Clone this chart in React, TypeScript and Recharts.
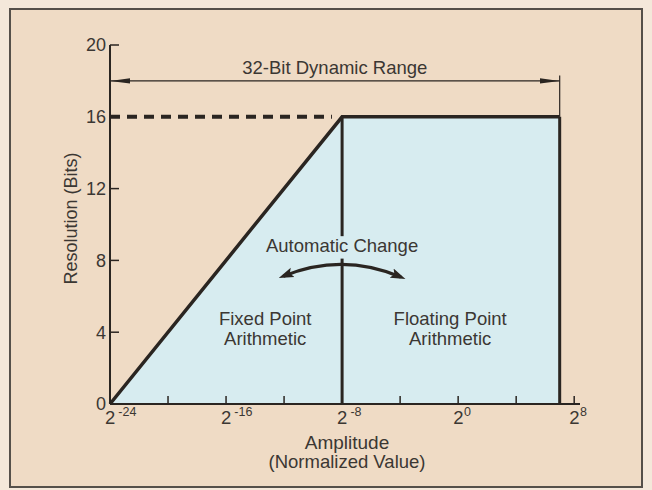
import React from 'react';
import { ComposedChart, Area, XAxis, YAxis, ReferenceLine, ReferenceDot } from 'recharts';

// ---- data ----
const amplitudeExponents = [-24, -8, 7];
const resolutionBits = [0, 16, 16];
const xTickExponents = [-24, -20, -16, -12, -8, -4, 0, 4, 8];
const xLabeledExponents = [-24, -16, -8, 0, 8];
const yTickBits = [0, 4, 8, 12, 16, 20];
const xDomain = [-24, 8.4];
const yDomain = [0, 20];
const dynamicRangeExponents = [-24, 7];
const dynamicRangeLevel = 18;
const dynamicRangeTickTop = 18.3;
const dashedSpanExponents = [-24, -8.7];
const dashedLevel = 16;
const changeArrowExponents = [-12.05, -3.95];
const changeArrowLevels = [7.12, 7.07];
// the boundary line is interrupted behind the "Automatic Change" label
const boundaryGap = [8.1, 9.35];

const data = amplitudeExponents.map((x, i) => ({ x, y: resolutionBits[i] }));

// ---- styles ----
const INK = '#2a2521';
const TEXT = '#3b3733';
const FILL = '#d7ecf0';
const BG = '#efdbc5';
const OUTER = '#f4e8da';
const FONT = "'Liberation Sans', Arial, Helvetica, sans-serif";

const XTick = (props: any) => {
  const { x, y, payload } = props;
  const v = payload.value as number;
  const labeled = xLabeledExponents.includes(v);
  return (
    <g>
      <line x1={x} x2={x} y1={y} y2={y - 8} stroke={INK} strokeWidth={1.5} />
      {labeled && (
        <text x={x - 5} y={y + 20} fill={TEXT} fontSize={18.5} fontFamily={FONT}>
          2
          <tspan dx={v < 0 ? 3 : 0.5} dy={-8} fontSize={12.5}>
            {v < 0 ? `-${-v}` : `${v}`}
          </tspan>
        </text>
      )}
    </g>
  );
};

const YTick = (props: any) => {
  const { x, y, payload } = props;
  return (
    <g>
      {payload.value !== 0 && (
        <line x1={x} x2={x + 9} y1={y} y2={y} stroke={INK} strokeWidth={1.5} />
      )}
      <text x={x - 4} y={y} dy="0.36em" textAnchor="end" fill={TEXT} fontSize={18} fontFamily={FONT}>
        {payload.value}
      </text>
    </g>
  );
};

const RangeArrow = (p: any) => (
  <g>
    <defs>
      <marker
        id="rangeHead"
        markerUnits="userSpaceOnUse"
        markerWidth={20}
        markerHeight={8}
        viewBox="0 0 20 8"
        refX={20}
        refY={4}
        orient="auto-start-reverse"
      >
        <path d="M0,1.3 L20,4 L0,6.7 z" fill={INK} />
      </marker>
    </defs>
    <line
      x1={p.x1}
      y1={p.y1}
      x2={p.x2}
      y2={p.y2}
      stroke={INK}
      strokeWidth={1.2}
      markerStart="url(#rangeHead)"
      markerEnd="url(#rangeHead)"
    />
  </g>
);

const CurvedArrow = (p: any) => {
  const mx = (p.x1 + p.x2) / 2;
  const cy = Math.min(p.y1, p.y2) - 24;
  return (
    <g>
      <defs>
        <marker
          id="curveHead"
          markerUnits="userSpaceOnUse"
          markerWidth={15}
          markerHeight={11}
          viewBox="0 0 15 11"
          refX={10}
          refY={5.5}
          orient="auto-start-reverse"
        >
          <path d="M0,0.5 L15,5.5 L0,10.5 L3,5.5 z" fill={INK} />
        </marker>
      </defs>
      <path
        d={`M${p.x1},${p.y1} Q${mx},${cy} ${p.x2},${p.y2}`}
        fill="none"
        stroke={INK}
        strokeWidth={3.2}
        markerStart="url(#curveHead)"
        markerEnd="url(#curveHead)"
      />
    </g>
  );
};

const textLines = (lines: string[], dyStart: number, gap: number) => (p: any) => (
  <g>
    {lines.map((t, i) => (
      <text
        key={i}
        x={p.cx}
        y={p.cy + dyStart + i * gap}
        textAnchor="middle"
        fill={TEXT}
        fontSize={18.5}
        fontFamily={FONT}
      >
        {t}
      </text>
    ))}
  </g>
);

const xTitle = (lp: any) => {
  const vb = lp.viewBox;
  const cx = vb.x + vb.width / 2 + 2;
  return (
    <g>
      <text x={cx} y={vb.y + 45} textAnchor="middle" fill={TEXT} fontSize={19} fontFamily={FONT}>
        Amplitude
      </text>
      <text x={cx} y={vb.y + 64} textAnchor="middle" fill={TEXT} fontSize={18.5} fontFamily={FONT}>
        (Normalized Value)
      </text>
    </g>
  );
};

const yTitle = (lp: any) => {
  const vb = lp.viewBox;
  const cx = vb.x + 1;
  const cy = vb.y + vb.height / 2 - 6;
  return (
    <text
      x={cx}
      y={cy}
      transform={`rotate(-90 ${cx} ${cy})`}
      textAnchor="middle"
      dominantBaseline="central"
      fill={TEXT}
      fontSize={18}
      fontFamily={FONT}
    >
      Resolution (Bits)
    </text>
  );
};

export default function App() {
  return (
    <div style={{ position: 'absolute', left: 0, top: 0, width: 652, height: 490, background: OUTER }}>
      <div
        style={{
          position: 'absolute',
          left: 9,
          top: 8,
          width: 634,
          height: 480,
          boxSizing: 'border-box',
          border: '2px solid #55504a',
          background: BG,
        }}
      />
      <div style={{ position: 'absolute', left: 0, top: 0 }}>
        <ComposedChart
          width={652}
          height={490}
          data={data}
          margin={{ top: 45, right: 72, bottom: 56, left: 70 }}
        >
          <XAxis
            dataKey="x"
            type="number"
            domain={xDomain}
            ticks={xTickExponents}
            interval={0}
            height={30}
            tickSize={0}
            tickMargin={0}
            tickLine={false}
            axisLine={{ stroke: INK, strokeWidth: 2 }}
            tick={<XTick />}
            label={xTitle}
          />
          <YAxis
            type="number"
            domain={yDomain}
            ticks={yTickBits}
            interval={0}
            width={40}
            tickSize={0}
            tickMargin={0}
            tickLine={false}
            axisLine={{ stroke: INK, strokeWidth: 2 }}
            tick={<YTick />}
            label={yTitle}
          />
          <Area
            type="linear"
            dataKey="y"
            stroke={INK}
            strokeWidth={3.5}
            fill={FILL}
            fillOpacity={1}
            dot={false}
            activeDot={false}
            isAnimationActive={false}
          />
          <ReferenceLine
            segment={[
              { x: amplitudeExponents[1], y: 0 },
              { x: amplitudeExponents[1], y: boundaryGap[0] },
            ]}
            stroke={INK}
            strokeWidth={3}
          />
          <ReferenceLine
            segment={[
              { x: amplitudeExponents[1], y: boundaryGap[1] },
              { x: amplitudeExponents[1], y: resolutionBits[1] },
            ]}
            stroke={INK}
            strokeWidth={3}
          />
          <ReferenceLine
            segment={[
              { x: amplitudeExponents[2], y: 0 },
              { x: amplitudeExponents[2], y: resolutionBits[2] },
            ]}
            stroke={INK}
            strokeWidth={3}
          />
          <ReferenceLine
            segment={[
              { x: dashedSpanExponents[0], y: dashedLevel },
              { x: dashedSpanExponents[1], y: dashedLevel },
            ]}
            stroke={INK}
            strokeWidth={4}
            strokeDasharray="10 7"
          />
          <ReferenceLine
            segment={[
              { x: dynamicRangeExponents[0], y: dynamicRangeLevel },
              { x: dynamicRangeExponents[1], y: dynamicRangeLevel },
            ]}
            shape={RangeArrow}
          />
          <ReferenceLine
            segment={[
              { x: dynamicRangeExponents[1], y: dashedLevel },
              { x: dynamicRangeExponents[1], y: dynamicRangeTickTop },
            ]}
            stroke={INK}
            strokeWidth={1.2}
          />
          <ReferenceLine
            segment={[
              { x: changeArrowExponents[0], y: changeArrowLevels[0] },
              { x: changeArrowExponents[1], y: changeArrowLevels[1] },
            ]}
            shape={CurvedArrow}
          />
          <ReferenceDot x={-8} y={8.45} r={1} shape={textLines(['Automatic Change'], 0, 0)} />
          <ReferenceDot x={-8.5} y={dynamicRangeLevel} r={1} shape={textLines(['32-Bit Dynamic Range'], -7, 0)} />
          <ReferenceDot x={-13.3} y={4.4} r={1} shape={textLines(['Fixed Point', 'Arithmetic'], 0, 20)} />
          <ReferenceDot x={-0.55} y={4.4} r={1} shape={textLines(['Floating Point', 'Arithmetic'], 0, 20)} />
        </ComposedChart>
      </div>
    </div>
  );
}
